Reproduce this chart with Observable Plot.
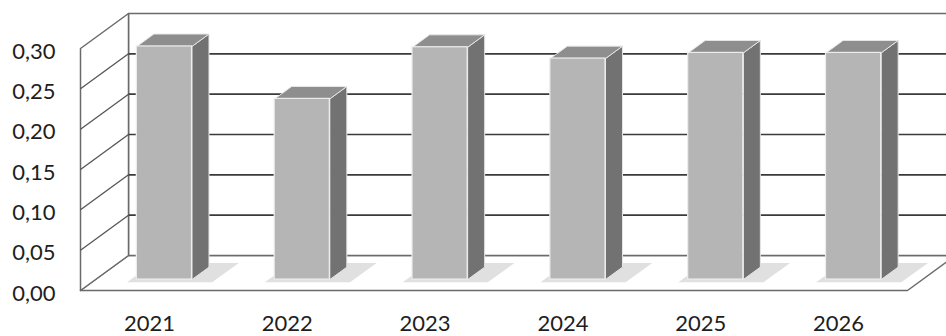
<!DOCTYPE html>
<html>
<head>
<meta charset="utf-8">
<script src="https://cdn.jsdelivr.net/npm/d3@7"></script>
<script src="https://cdn.jsdelivr.net/npm/@observablehq/plot@0.6"></script>
<style>
  html, body { margin: 0; padding: 0; background: #ffffff; }
  #chart svg { overflow: visible; display: block; }
</style>
</head>
<body>
<div id="chart"></div>
<script>
// ---- data ----
const years = ["2021", "2022", "2023", "2024", "2025", "2026"];
const values = [0.289, 0.224, 0.288, 0.274, 0.281, 0.281];
const yTicks = [0, 0.05, 0.10, 0.15, 0.20, 0.25, 0.30];

// ---- layout ----
const W = 946, H = 336;
const mL = 80, mR = 39, mT = 48, mB = 46;
const xMax = years.length, yMax = 0.30;
const pxPerX = (W - mL - mR) / xMax;
const pxPerY = (H - mT - mB) / yMax;
// full 3D depth in pixels (right, up) converted to data units
const DX = 48 / pxPerX, DY = 35 / pxPerY;
const f1 = 0.3125, f2 = 0.667;   // bar front / back depth fractions
const half = 0.2;                 // half bar width in slot units

const at = (x, y, f) => ({x: x + f * DX, y: y + f * DY});
let polys = [];
function poly(id, pts, kind) {
  pts.forEach((p, k) => polys.push({id, kind, k, x: p.x, y: p.y}));
  polys.push({id, kind, k: pts.length, x: pts[0].x, y: pts[0].y});
}

// walls and floor
poly("floor", [at(0, 0, 0), at(xMax, 0, 0), at(xMax, 0, 1), at(0, 0, 1)], "wall");
poly("back", [at(0, 0, 1), at(xMax, 0, 1), at(xMax, yMax, 1), at(0, yMax, 1)], "wall");
poly("left", [at(0, 0, 0), at(0, 0, 1), at(0, yMax, 1), at(0, yMax, 0)], "wall");

// bars
const bars = years.map((yr, i) => ({year: yr, i, v: values[i]}));
bars.forEach(b => {
  const x1 = b.i + 0.5 - half, x2 = b.i + 0.5 + half;
  const sh = 6 / pxPerX, sh2 = 24 / pxPerX;
  poly("shadow" + b.i, [at(x1 - sh, 0, f1 - 0.08), at(x2 + sh2, 0, f1 - 0.08), at(x2 + sh2, 0, f2 + 0.12), at(x1 - sh, 0, f2 + 0.12)], "shadow");
  poly("side" + b.i, [at(x2, 0, f1), at(x2, 0, f2), at(x2, b.v, f2), at(x2, b.v, f1)], "side");
  poly("top" + b.i, [at(x1, b.v, f1), at(x2, b.v, f1), at(x2, b.v, f2), at(x1, b.v, f2)], "top");
});
const fronts = bars.map(b => ({
  x1: at(b.i + 0.5 - half, 0, f1).x, x2: at(b.i + 0.5 + half, 0, f1).x,
  y1: at(0, 0, f1).y, y2: at(0, b.v, f1).y
}));

const gridBack = yTicks.slice(1, -1).map(t => ({x1: at(0, t, 1).x, y1: at(0, t, 1).y, x2: at(xMax, t, 1).x, y2: at(xMax, t, 1).y}));
const gridLeft = yTicks.slice(1, -1).map(t => ({x1: 0, y1: t, x2: at(0, t, 1).x, y2: at(0, t, 1).y}));

const fillOf = {wall: "#ffffff", shadow: "#dedede", side: "#707070", top: "#8c8c8c"};
const strokeOf = {wall: "#6a6a6a", shadow: "none", side: "#e8e8e8", top: "#e8e8e8"};

const chart = Plot.plot({
  width: W, height: H,
  marginLeft: mL, marginRight: mR, marginTop: mT, marginBottom: mB,
  style: {fontFamily: "Lato, 'Open Sans', sans-serif", fontSize: "22px", color: "#1e1e1e", background: "#ffffff"},
  x: {type: "linear", domain: [0, xMax], axis: null},
  y: {type: "linear", domain: [0, yMax], axis: null},
  marks: [
    Plot.line(polys.filter(d => d.kind === "wall"), {x: "x", y: "y", z: "id", fill: "#ffffff", stroke: "#6a6a6a", strokeWidth: 1.5, curve: "linear"}),
    Plot.link(gridBack, {x1: "x1", y1: "y1", x2: "x2", y2: "y2", stroke: "#3a3a3a", strokeWidth: 1.6}),
    Plot.link(gridLeft, {x1: "x1", y1: "y1", x2: "x2", y2: "y2", stroke: "#555555", strokeWidth: 1.3}),
    Plot.line(polys.filter(d => d.kind === "shadow"), {x: "x", y: "y", z: "id", fill: "#e0e0e0", stroke: "none"}),
    Plot.line(polys.filter(d => d.kind === "side"), {x: "x", y: "y", z: "id", fill: "#727272", stroke: "#e6e6e6", strokeWidth: 1}),
    Plot.line(polys.filter(d => d.kind === "top"), {x: "x", y: "y", z: "id", fill: "#8e8e8e", stroke: "#e6e6e6", strokeWidth: 1}),
    Plot.rect(fronts, {x1: "x1", x2: "x2", y1: "y1", y2: "y2", fill: "#b5b5b5", stroke: "#ededed", strokeWidth: 1.2}),
    Plot.axisX(years.map((_, i) => i + 0.5), {tickFormat: d => years[Math.round(d - 0.5)], tickSize: 0, tickPadding: 25, fontSize: 22, fill: "#1e1e1e"}),
    Plot.axisY(yTicks, {tickFormat: d => d.toFixed(2).replace(".", ","), tickSize: 0, tickPadding: 25, fontSize: 22, dy: 3, fill: "#1e1e1e"})
  ]
});
document.getElementById("chart").appendChild(chart);
</script>
</body>
</html>
